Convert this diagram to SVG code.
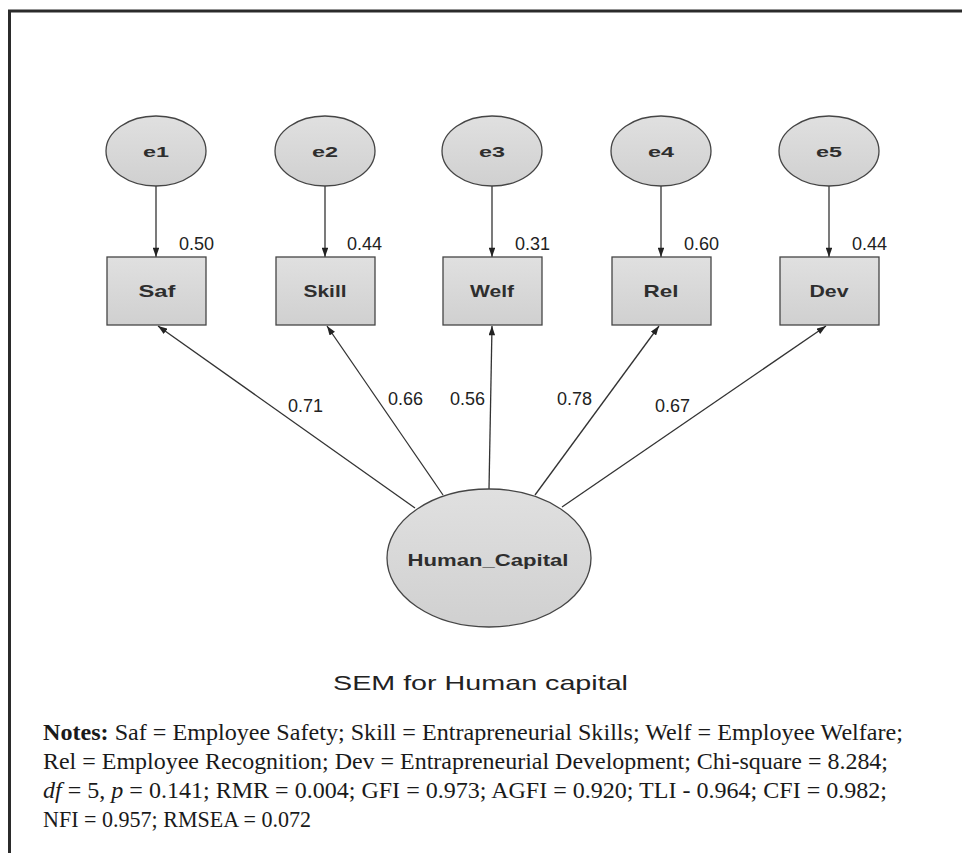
<svg xmlns="http://www.w3.org/2000/svg" width="962" height="853" viewBox="0 0 962 853">
<style>
.node{fill:#d9d9d9;stroke:#454545;stroke-width:1.3}
.lbl{font-family:"Liberation Sans",Arial,sans-serif;font-weight:bold;fill:#2e2e2e;text-anchor:middle}
.num{font-family:"Liberation Sans",Arial,sans-serif;font-size:18px;fill:#222}
.edge{stroke:#333;stroke-width:1.3;fill:none;marker-end:url(#ah)}
.note{font-family:"Liberation Serif","Times New Roman",serif;font-size:23px;fill:#1a1a1a}
</style>
<defs>
<linearGradient id="g" x1="0" y1="0" x2="0" y2="1">
<stop offset="0" stop-color="#e0e0e0"/><stop offset="1" stop-color="#d0d0d0"/>
</linearGradient>
<marker id="ah" viewBox="0 0 10 7" refX="10" refY="3.5" markerWidth="10" markerHeight="6.5" markerUnits="userSpaceOnUse" orient="auto">
<path d="M0,0 L10,3.5 L0,7 z" fill="#222"/>
</marker>
</defs>
<rect width="962" height="853" fill="#fff"/>
<path d="M9.5,853 V11 H962" fill="none" stroke="#2b2b2b" stroke-width="3"/>

<g id="connectors">
<line class="edge" x1="156" y1="186" x2="156" y2="257"/>
<line class="edge" x1="325" y1="186" x2="325" y2="257"/>
<line class="edge" x1="492" y1="186" x2="492" y2="257"/>
<line class="edge" x1="661" y1="186" x2="661" y2="257"/>
<line class="edge" x1="829" y1="186" x2="829" y2="257"/>
<line class="edge" x1="415" y1="508" x2="158" y2="326"/>
<line class="edge" x1="443" y1="495" x2="327" y2="326"/>
<line class="edge" x1="489" y1="489" x2="492" y2="326"/>
<line class="edge" x1="535" y1="495" x2="659" y2="326"/>
<line class="edge" x1="562" y1="507" x2="826" y2="326"/>
</g>

<g id="e1"><ellipse class="node" style="fill:url(#g)" cx="156" cy="151" rx="50" ry="35"/><text class="lbl" x="156" y="157" font-size="15" textLength="26" lengthAdjust="spacingAndGlyphs">e1</text></g>
<g id="e2"><ellipse class="node" style="fill:url(#g)" cx="325" cy="151" rx="50" ry="35"/><text class="lbl" x="325" y="157" font-size="15" textLength="26" lengthAdjust="spacingAndGlyphs">e2</text></g>
<g id="e3"><ellipse class="node" style="fill:url(#g)" cx="492" cy="151" rx="50" ry="35"/><text class="lbl" x="492" y="157" font-size="15" textLength="26" lengthAdjust="spacingAndGlyphs">e3</text></g>
<g id="e4"><ellipse class="node" style="fill:url(#g)" cx="661" cy="151" rx="50" ry="35"/><text class="lbl" x="661" y="157" font-size="15" textLength="26" lengthAdjust="spacingAndGlyphs">e4</text></g>
<g id="e5"><ellipse class="node" style="fill:url(#g)" cx="829" cy="151" rx="50" ry="35"/><text class="lbl" x="829" y="157" font-size="15" textLength="26" lengthAdjust="spacingAndGlyphs">e5</text></g>

<g id="Saf"><rect class="node" style="fill:url(#g)" x="107" y="257" width="99" height="68"/><text class="lbl" x="157" y="297" font-size="17" textLength="37" lengthAdjust="spacingAndGlyphs">Saf</text></g>
<g id="Skill"><rect class="node" style="fill:url(#g)" x="276" y="257" width="99" height="68"/><text class="lbl" x="325" y="297" font-size="17" textLength="43" lengthAdjust="spacingAndGlyphs">Skill</text></g>
<g id="Welf"><rect class="node" style="fill:url(#g)" x="443" y="257" width="99" height="68"/><text class="lbl" x="492" y="297" font-size="17" textLength="44" lengthAdjust="spacingAndGlyphs">Welf</text></g>
<g id="Rel"><rect class="node" style="fill:url(#g)" x="612" y="257" width="99" height="68"/><text class="lbl" x="661" y="297" font-size="17" textLength="35" lengthAdjust="spacingAndGlyphs">Rel</text></g>
<g id="Dev"><rect class="node" style="fill:url(#g)" x="780" y="257" width="99" height="68"/><text class="lbl" x="829" y="297" font-size="17" textLength="39" lengthAdjust="spacingAndGlyphs">Dev</text></g>

<g id="Human_Capital"><ellipse class="node" style="fill:url(#g)" cx="489" cy="558" rx="102" ry="69"/><text class="lbl" x="488" y="566" font-size="17" textLength="161" lengthAdjust="spacingAndGlyphs">Human_Capital</text></g>

<g id="labels">
<text class="num" x="179" y="250">0.50</text>
<text class="num" x="347" y="250">0.44</text>
<text class="num" x="515" y="250">0.31</text>
<text class="num" x="684" y="250">0.60</text>
<text class="num" x="852" y="250">0.44</text>
<text class="num" x="288" y="412">0.71</text>
<text class="num" x="388" y="405">0.66</text>
<text class="num" x="450" y="405">0.56</text>
<text class="num" x="557" y="405">0.78</text>
<text class="num" x="655" y="412">0.67</text>
</g>

<text x="333" y="690" font-family="Liberation Sans,Arial,sans-serif" font-size="21" fill="#222" textLength="295" lengthAdjust="spacingAndGlyphs">SEM for Human capital</text>

<g id="notes" class="note">
<text x="43" y="740" textLength="860" lengthAdjust="spacingAndGlyphs"><tspan font-weight="bold">Notes:</tspan> Saf = Employee Safety; Skill = Entrapreneurial Skills; Welf = Employee Welfare;</text>
<text x="43" y="769" textLength="845" lengthAdjust="spacingAndGlyphs">Rel = Employee Recognition; Dev = Entrapreneurial Development; Chi-square = 8.284;</text>
<text x="43" y="798" textLength="844" lengthAdjust="spacingAndGlyphs"><tspan font-style="italic">df</tspan> = 5, <tspan font-style="italic">p</tspan> = 0.141; RMR = 0.004; GFI = 0.973; AGFI = 0.920; TLI - 0.964; CFI = 0.982;</text>
<text x="43" y="827" textLength="268" lengthAdjust="spacingAndGlyphs">NFI = 0.957; RMSEA = 0.072</text>
</g>
</svg>
